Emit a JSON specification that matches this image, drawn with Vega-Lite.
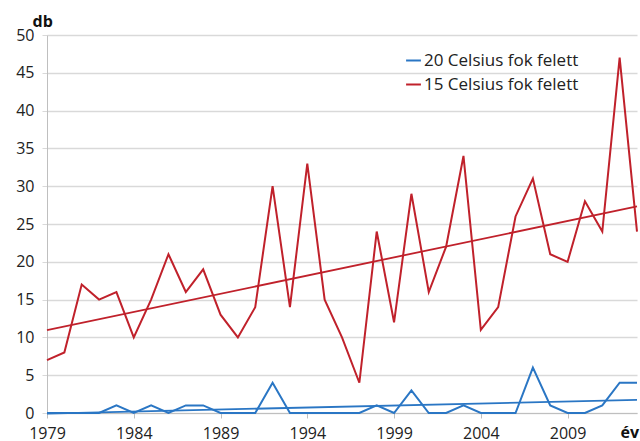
{
  "$schema": "https://vega.github.io/schema/vega-lite/v6.json",
  "width": 590,
  "height": 378,
  "autosize": {"type": "none"},
  "padding": {"left": 47, "top": 35, "right": 3, "bottom": 28},
  "background": "white",
  "config": {
    "view": {"stroke": null},
    "font": "Open Sans"
  },
  "data": {
    "values": [
      {"year": 1979, "s15": 7, "s20": 0},
      {"year": 1980, "s15": 8, "s20": 0},
      {"year": 1981, "s15": 17, "s20": 0},
      {"year": 1982, "s15": 15, "s20": 0},
      {"year": 1983, "s15": 16, "s20": 1},
      {"year": 1984, "s15": 10, "s20": 0},
      {"year": 1985, "s15": 15, "s20": 1},
      {"year": 1986, "s15": 21, "s20": 0},
      {"year": 1987, "s15": 16, "s20": 1},
      {"year": 1988, "s15": 19, "s20": 1},
      {"year": 1989, "s15": 13, "s20": 0},
      {"year": 1990, "s15": 10, "s20": 0},
      {"year": 1991, "s15": 14, "s20": 0},
      {"year": 1992, "s15": 30, "s20": 4},
      {"year": 1993, "s15": 14, "s20": 0},
      {"year": 1994, "s15": 33, "s20": 0},
      {"year": 1995, "s15": 15, "s20": 0},
      {"year": 1996, "s15": 10, "s20": 0},
      {"year": 1997, "s15": 4, "s20": 0},
      {"year": 1998, "s15": 24, "s20": 1},
      {"year": 1999, "s15": 12, "s20": 0},
      {"year": 2000, "s15": 29, "s20": 3},
      {"year": 2001, "s15": 16, "s20": 0},
      {"year": 2002, "s15": 22, "s20": 0},
      {"year": 2003, "s15": 34, "s20": 1},
      {"year": 2004, "s15": 11, "s20": 0},
      {"year": 2005, "s15": 14, "s20": 0},
      {"year": 2006, "s15": 26, "s20": 0},
      {"year": 2007, "s15": 31, "s20": 6},
      {"year": 2008, "s15": 21, "s20": 1},
      {"year": 2009, "s15": 20, "s20": 0},
      {"year": 2010, "s15": 28, "s20": 0},
      {"year": 2011, "s15": 24, "s20": 1},
      {"year": 2012, "s15": 47, "s20": 4},
      {"year": 2013, "s15": 24, "s20": 4}
    ]
  },
  "transform": [
    {"fold": ["s20", "s15"], "as": ["key", "value"]},
    {"lookup": "key", "from": {"data": {"values": [
      {"key": "s20", "series": "20 Celsius fok felett"},
      {"key": "s15", "series": "15 Celsius fok felett"}
    ]}, "key": "key", "fields": ["series"]}}
  ],
  "encoding": {
    "x": {
      "field": "year",
      "type": "quantitative",
      "scale": {"domain": [1979, 2013], "nice": false, "zero": false},
      "axis": {
        "values": [1979, 1984, 1989, 1994, 1999, 2004, 2009],
        "format": "d",
        "grid": false,
        "domainColor": "#bfbfbf",
        "tickColor": "#bfbfbf",
        "tickSize": 5,
        "labelFontSize": 16,
        "labelColor": "#222222",
        "labelPadding": 7,
        "labelFlush": false,
        "labelOverlap": false,
        "title": "év",
        "titleFontSize": 16,
        "titleFontWeight": "bold",
        "titleColor": "#111111",
        "titleAlign": "left",
        "titleBaseline": "alphabetic",
        "titleX": 573,
        "titleY": 24
      }
    },
    "y": {
      "field": "value",
      "type": "quantitative",
      "scale": {"domain": [0, 50], "nice": false},
      "axis": {
        "values": [0, 5, 10, 15, 20, 25, 30, 35, 40, 45, 50],
        "grid": true,
        "gridColor": "#d9d9d9",
        "gridWidth": 1.5,
        "domainColor": "#bfbfbf",
        "tickColor": "#d9d9d9",
        "tickSize": 5,
        "labelFontSize": 16,
        "labelColor": "#222222",
        "labelPadding": 8,
        "title": "db",
        "titleAngle": 0,
        "titleFontSize": 16,
        "titleFontWeight": "bold",
        "titleColor": "#111111",
        "titleAlign": "left",
        "titleBaseline": "alphabetic",
        "titleX": -15,
        "titleY": -9
      }
    },
    "color": {
      "field": "series",
      "type": "nominal",
      "scale": {
        "domain": ["20 Celsius fok felett", "15 Celsius fok felett"],
        "range": ["#2a76c4", "#c0212b"]
      },
      "legend": {
        "orient": "none",
        "legendX": 358,
        "legendY": 17,
        "title": null,
        "symbolType": "stroke",
        "symbolSize": 220,
        "symbolStrokeWidth": 2,
        "labelFontSize": 17,
        "labelColor": "#222222",
        "labelOffset": 2,
        "rowPadding": 6
      }
    }
  },
  "layer": [
    {"mark": {"type": "line", "strokeWidth": 2}},
    {
      "transform": [{"regression": "value", "on": "year", "groupby": ["series"]}],
      "mark": {"type": "line", "strokeWidth": 1.8}
    }
  ]
}
